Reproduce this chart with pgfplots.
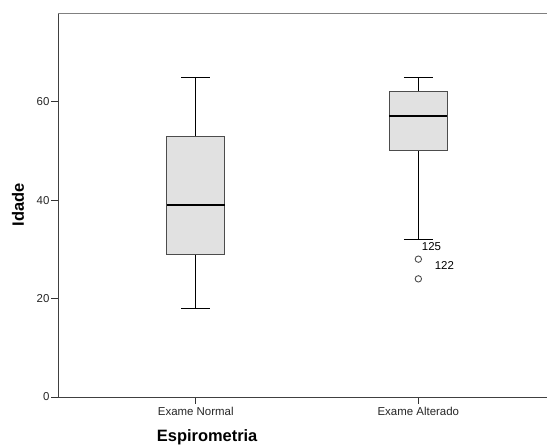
\documentclass[border=0pt]{standalone}
\usepackage{pgfplots}
\pgfplotsset{compat=1.18}
\usepackage{fontspec}
\setmainfont{Liberation Sans}
\definecolor{boxfill}{HTML}{E1E1E1}
\begin{document}
\begin{tikzpicture}
\begin{axis}[
 scale only axis, width=489bp, height=384bp,
 xmin=0.381, xmax=2.578, ymin=0, ymax=78,
 axis x line*=bottom, axis y line*=left,
 axis line style={-, draw=black!75, line width=1pt},
 xtick={1,2}, xticklabels={Exame Normal, Exame Alterado},
 ytick={0,20,40,60},
 tick align=outside, major tick length=6.5bp,
 tick style={black!80, line width=0.9pt},
 ticklabel style={font=\fontsize{11.5}{13}\selectfont, text=black!85},
 yticklabel style={xshift=1.5bp},
 /pgf/number format/assume math mode=true,
 xlabel={Espirometria}, ylabel={Idade},
 label style={font=\fontsize{16.5}{19}\selectfont\bfseries},
 xlabel style={at={(rel axis cs:0.305,-0.104)}, anchor=center},
 ylabel style={at={(rel axis cs:-0.0818,0.5)}, anchor=center},
 clip=false,
]
% Exame Normal: whiskers 18-65, box 29-53, median 39
\addplot[black, line width=1pt] coordinates {(1,53) (1,65)};
\addplot[black, line width=1pt] coordinates {(1,29) (1,18)};
\addplot[black, line width=1pt] coordinates {(0.935,65) (1.065,65)};
\addplot[black, line width=1pt] coordinates {(0.935,18) (1.065,18)};
\addplot[draw=black!70, fill=boxfill, line width=0.9pt] coordinates {(0.87,29) (1.13,29) (1.13,53) (0.87,53)} -- cycle;
\addplot[black, line width=2pt] coordinates {(0.87,39) (1.13,39)};
% Exame Alterado: whiskers 32-65, box 50-62, median 57
\addplot[black, line width=1pt] coordinates {(2,62) (2,65)};
\addplot[black, line width=1pt] coordinates {(2,50) (2,32)};
\addplot[black, line width=1pt] coordinates {(1.935,65) (2.065,65)};
\addplot[black, line width=1pt] coordinates {(1.935,32) (2.065,32)};
\addplot[draw=black!70, fill=boxfill, line width=0.9pt] coordinates {(1.87,50) (2.13,50) (2.13,62) (1.87,62)} -- cycle;
\addplot[black, line width=2pt] coordinates {(1.87,57) (2.13,57)};
% outliers
\addplot[only marks, mark=o, mark size=3.2bp, mark options={draw=black!70, fill=white, line width=0.9pt}] coordinates {(2,28) (2,24)};
\node[anchor=west, font=\fontsize{11.5}{13}\selectfont, inner sep=0pt] at (axis cs:2.015,30.6) {125};
\node[anchor=west, font=\fontsize{11.5}{13}\selectfont, inner sep=0pt] at (axis cs:2.073,26.8) {122};
\draw[black!50, line width=1pt] (rel axis cs:0,1) -- (rel axis cs:1,1);
\end{axis}
\pgfresetboundingbox
\path (-58bp,-50bp) rectangle (489bp,397bp);
\end{tikzpicture}
\end{document}
